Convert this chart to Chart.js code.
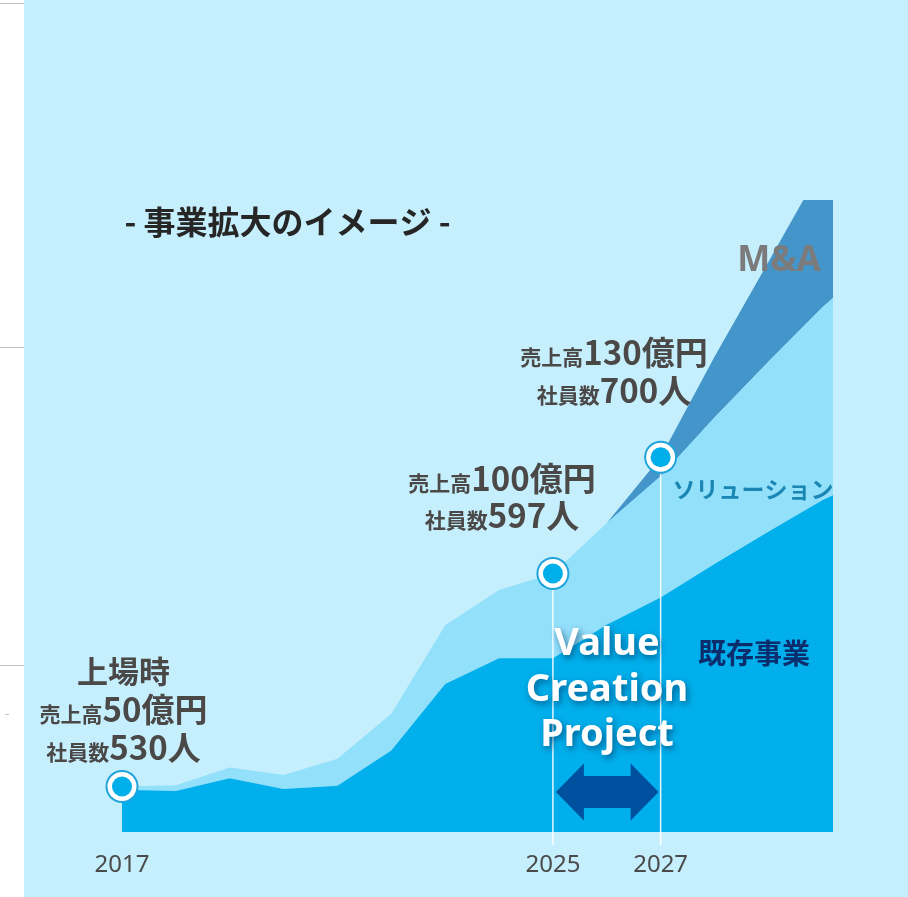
<!DOCTYPE html>
<html lang="ja">
<head>
<meta charset="utf-8">
<script src="https://cdn.jsdelivr.net/npm/chart.js@4.4.1/dist/chart.umd.min.js"></script>
<style>
html, body { margin: 0; padding: 0; background: #fff; }
#wrap { position: relative; width: 908px; height: 897px; }
</style>
</head>
<body>
<div id="wrap"><canvas id="growth"></canvas></div>
<script>

var PANEL_BG = '#c6effd';
var JP_FONT = '"Noto Sans CJK JP", "Noto Sans", sans-serif';

// x positions of the area vertices (years), the last one runs to the panel edge
var years = [2017, 2018, 2019, 2020, 2021, 2022, 2023, 2024, 2025, 2026, 2027, 2028, 2029, 2030, 2030.2];
// layer thickness, stacked bottom to top
var existingBiz = [6.7, 6.5, 8.5, 6.8, 7.3, 12.9, 23.4, 27.5, 27.5, 32.8, 37.1, 42.4, 47.5, 52.5, 53.3];
var solutionBiz = [0.5, 0.9, 1.7, 2.2, 4.3, 5.8, 9.3, 10.8, 13.4, 16.1, 19.2, 23.2, 26.9, 30.5, 31.2];
var maBiz       = [0, 0, 0, 0, 0, 0, 0, 0, 0, 0, 3.0, 9.6, 15.8, 22.3, 23.4];

var tickYears = [2017, 2025, 2027];

// milestones marked on the top edge
var milestoneYears = [2017, 2025, 2027];
var revenue = [50, 100, 130];   // 億円
var staff = [530, 597, 700];    // 人

var seriesNames = ['既存事業', 'ソリューション', 'M&A'];

function pts(vals) {
  return vals.map(function(v, i) { return { x: years[i], y: v }; });
}

function totalAt(year) {
  var i = years.indexOf(year);
  return existingBiz[i] + solutionBiz[i] + maBiz[i];
}

// mixed size text run centred on cx
function drawRun(ctx, parts, cx, baseline, color) {
  var widths = parts.map(function(p) {
    ctx.font = 'bold ' + p[1] + 'px ' + JP_FONT;
    return ctx.measureText(p[0]).width;
  });
  var total = widths.reduce(function(a, b) { return a + b; }, 0);
  var x = cx - total / 2;
  ctx.textAlign = 'left';
  ctx.textBaseline = 'alphabetic';
  ctx.fillStyle = color;
  parts.forEach(function(p, i) {
    ctx.font = 'bold ' + p[1] + 'px ' + JP_FONT;
    ctx.fillText(p[0], x, baseline);
    x += widths[i];
  });
}

var panelPlugin = {
  id: 'panel',
  beforeDraw: function(chart) {
    var ctx = chart.ctx;
    ctx.save();
    ctx.fillStyle = '#ffffff';
    ctx.fillRect(0, 0, chart.width, chart.height);
    ctx.fillStyle = PANEL_BG;
    ctx.fillRect(24, 0, chart.width - 24, chart.height);
    ctx.fillStyle = '#c4c4c4';
    [3, 347, 665].forEach(function(y) { ctx.fillRect(0, y, 24, 1); });
    ctx.fillRect(5, 714, 4, 1);
    ctx.restore();
  }
};

// label block layout per milestone: centre x and baselines
var blockLayout = [
  { cx: 123.5, head: 683, rows: [722, 760] },
  { cx: 502, rows: [491, 528] },
  { cx: 614, rows: [365, 403] }
];

var overlayPlugin = {
  id: 'overlay',
  afterDatasetsDraw: function(chart) {
    var ctx = chart.ctx;
    var xs = chart.scales.x, ys = chart.scales.y;
    var area = chart.chartArea;
    ctx.save();

    // project span arrow between 2025 and 2027
    var ax0 = xs.getPixelForValue(2025) + 3;
    var ax1 = xs.getPixelForValue(2027) - 2;
    var ay = area.bottom - 40;
    var head = 28, hh = 28.5, sh = 16;
    ctx.fillStyle = '#0050a0';
    ctx.beginPath();
    ctx.moveTo(ax0, ay);
    ctx.lineTo(ax0 + head, ay - hh);
    ctx.lineTo(ax0 + head, ay - sh);
    ctx.lineTo(ax1 - head, ay - sh);
    ctx.lineTo(ax1 - head, ay - hh);
    ctx.lineTo(ax1, ay);
    ctx.lineTo(ax1 - head, ay + hh);
    ctx.lineTo(ax1 - head, ay + sh);
    ctx.lineTo(ax0 + head, ay + sh);
    ctx.lineTo(ax0 + head, ay + hh);
    ctx.closePath();
    ctx.fill();

    // drop lines and markers
    milestoneYears.forEach(function(yr, i) {
      var px = xs.getPixelForValue(yr);
      var py = ys.getPixelForValue(totalAt(yr));
      if (i > 0) {
        ctx.strokeStyle = 'rgba(255,255,255,0.9)';
        ctx.lineWidth = 1.5;
        ctx.beginPath();
        ctx.moveTo(px, py);
        ctx.lineTo(px, area.bottom + 13);
        ctx.stroke();
      }
    });
    milestoneYears.forEach(function(yr) {
      var px = xs.getPixelForValue(yr);
      var py = ys.getPixelForValue(totalAt(yr));
      [[16.5, '#1ea3da'], [14.5, '#ffffff'], [10, '#00aeea']].forEach(function(c) {
        ctx.fillStyle = c[1];
        ctx.beginPath();
        ctx.arc(px, py, c[0], 0, Math.PI * 2);
        ctx.fill();
      });
    });

    // milestone text blocks
    var grey = '#4b4848';
    milestoneYears.forEach(function(yr, i) {
      var b = blockLayout[i];
      if (b.head) drawRun(ctx, [['上場時', 31]], b.cx, b.head, grey);
      drawRun(ctx, [['売上高', 21], [revenue[i] + '億円', 33]], b.cx, b.rows[0], grey);
      drawRun(ctx, [['社員数', 21], [staff[i] + '人', 33]], b.cx, b.rows[1], grey);
    });

    // title
    ctx.textAlign = 'center';
    ctx.textBaseline = 'alphabetic';
    ctx.fillStyle = '#262626';
    ctx.font = 'bold 32px ' + JP_FONT;
    ctx.fillText('- 事業拡大のイメージ -', 287.5, 234);

    // series names
    ctx.fillStyle = '#7b7b7b';
    ctx.font = 'bold 35px "Noto Sans", sans-serif';
    ctx.fillText(seriesNames[2], 779, 270.5);
    ctx.fillStyle = '#1a86b3';
    ctx.font = 'bold 23px ' + JP_FONT;
    ctx.fillText(seriesNames[1], 753, 498);
    ctx.fillStyle = '#0b2d6e';
    ctx.font = 'bold 28px ' + JP_FONT;
    ctx.fillText(seriesNames[0], 754, 664);

    // project caption
    ctx.shadowColor = 'rgba(0,45,90,0.6)';
    ctx.shadowBlur = 6;
    ctx.shadowOffsetX = 2;
    ctx.shadowOffsetY = 3;
    ctx.fillStyle = '#ffffff';
    ctx.font = 'bold 38px "Noto Sans", sans-serif';
    ['Value', 'Creation', 'Project'].forEach(function(t, i) {
      ctx.fillText(t, 607, 655 + i * 45.5);
    });
    ctx.restore();
  }
};

new Chart(document.getElementById('growth'), {
  type: 'line',
  data: {
    datasets: [
      { label: seriesNames[0], data: pts(existingBiz), backgroundColor: '#00afeb', fill: 'origin' },
      { label: seriesNames[1], data: pts(solutionBiz), backgroundColor: '#93e0fb', fill: '-1' },
      { label: seriesNames[2], data: pts(maBiz), backgroundColor: '#4495ca', fill: '-1' }
    ]
  },
  options: {
    responsive: true,
    maintainAspectRatio: false,
    animation: false,
    layout: { padding: { left: 122, right: 75, top: 200, bottom: 0 } },
    elements: {
      point: { radius: 0, hoverRadius: 0 },
      line: { borderWidth: 0, tension: 0 }
    },
    plugins: { legend: { display: false }, tooltip: { enabled: false } },
    scales: {
      x: {
        type: 'linear',
        min: 2017,
        max: 2030.2,
        grid: { display: false },
        border: { display: false },
        afterBuildTicks: function(s) { s.ticks = tickYears.map(function(v) { return { value: v }; }); },
        afterFit: function(s) { s.height = 65; },
        ticks: {
          padding: 11,
          autoSkip: false,
          maxRotation: 0,
          color: '#4a4a4a',
          font: { family: '"Noto Sans", sans-serif', size: 24 },
          callback: function(v) { return String(v); }
        }
      },
      y: { display: false, stacked: true, min: 0, max: 100 }
    }
  },
  plugins: [panelPlugin, overlayPlugin]
});
</script>
</body>
</html>
